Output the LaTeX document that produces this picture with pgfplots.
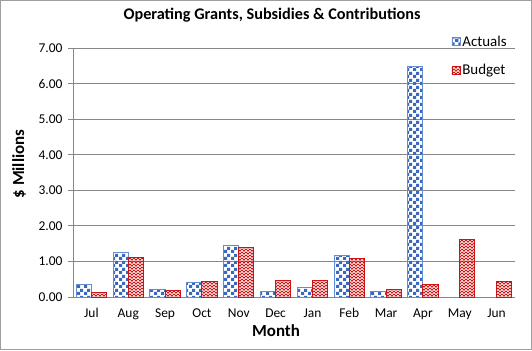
\documentclass[border=0pt]{standalone}
\usepackage{pgfplots}
\pgfplotsset{compat=1.18}
\usepackage{fontspec}
\setmainfont{Carlito}
\usetikzlibrary{patterns.meta}
\definecolor{actblue}{RGB}{58,104,190}
\definecolor{actedge}{RGB}{100,140,210}
\definecolor{budred}{RGB}{204,20,20}
\definecolor{gridgray}{RGB}{134,134,134}
\pgfdeclarepattern{
  name=mychecker,
  type=uncolored,
  bottom left={\pgfpoint{0bp}{0bp}},
  top right={\pgfpoint{7bp}{7bp}},
  tile size={\pgfpoint{7bp}{7bp}},
  code={
    \pgfpathrectangle{\pgfpoint{0bp}{0bp}}{\pgfpoint{3.5bp}{3.5bp}}
    \pgfpathrectangle{\pgfpoint{3.5bp}{3.5bp}}{\pgfpoint{3.5bp}{3.5bp}}
    \pgfusepath{fill}
  }
}
\pgfdeclarepattern{
  name=myzigzag,
  type=uncolored,
  bottom left={\pgfpoint{-1bp}{-1bp}},
  top right={\pgfpoint{5bp}{4bp}},
  tile size={\pgfpoint{4bp}{3bp}},
  code={
    \pgfsetlinewidth{1bp}
    \pgfpathmoveto{\pgfpoint{-0.5bp}{0.25bp}}
    \pgfpathlineto{\pgfpoint{0bp}{0bp}}
    \pgfpathlineto{\pgfpoint{2bp}{2bp}}
    \pgfpathlineto{\pgfpoint{4bp}{0bp}}
    \pgfpathlineto{\pgfpoint{4.5bp}{0.25bp}}
    \pgfusepath{stroke}
  }
}
\pgfplotstableread{
x act bud
0 0.36 0.12
1 1.26 1.10
2 0.22 0.19
3 0.41 0.43
4 1.46 1.38
5 0.16 0.46
6 0.26 0.46
7 1.17 1.08
8 0.16 0.21
9 6.47 0.36
10 0 1.63
11 0 0.43
}\mydata
\begin{document}
\begin{tikzpicture}[x=1bp,y=1bp]
\useasboundingbox (0,0) rectangle (532,350);
\draw[gridgray!80, line width=1bp] (0.5,0.5) rectangle (531.5,349.5);
\begin{axis}[
  at={(73bp,53bp)}, anchor=south west,
  scale only axis, width=442bp, height=249bp,
  xmin=-0.5, xmax=11.5, ymin=0, ymax=7,
  ybar=0pt, bar width=0.41,
  axis x line*=bottom, axis y line*=left,
  axis line style={gridgray, line width=0.8bp},
  major tick length=5bp,
  xtick={0,...,11},
  xticklabels={Jul,Aug,Sep,Oct,Nov,Dec,Jan,Feb,Mar,Apr,May,Jun},
  x tick style={draw=none},
  extra x ticks={-0.5,0.5,...,11.5},
  extra x tick labels={},
  extra x tick style={grid=none, tick style={draw=gridgray, line width=0.8bp}},
  ytick={0,1,...,7},
  y tick style={draw=gridgray, line width=0.8bp},
  tick align=outside,
  ymajorgrids, major grid style={gridgray, line width=0.8bp},
  yticklabel style={/pgf/number format/.cd, fixed, fixed zerofill, precision=2, /tikz/.cd},
  /pgf/number format/assume math mode=true,
  tick label style={font=\fontsize{13.5}{14}\selectfont},
  xticklabel style={yshift=-3bp},
  yticklabel style={xshift=-2bp},
  legend style={at={(axis description cs:0.856,1.058)}, anchor=north west, draw=none, fill=none,
    inner sep=0pt, font=\fontsize{15}{16}\selectfont, row sep=13bp,
    /tikz/every even column/.append style={column sep=3bp}},
  legend cell align=left,
  legend image code/.code={\draw[#1, line width=0.8bp] (0bp,-4bp) rectangle (8bp,4bp);},
]
\addplot[draw=actedge, line width=1bp, pattern=mychecker, pattern color=actblue] table[x=x,y=act]{\mydata};
\addplot[draw=budred, line width=1bp, pattern=myzigzag, pattern color=budred] table[x=x,y=bud]{\mydata};
\legend{Actuals,Budget}
\end{axis}
\node[font=\bfseries\fontsize{16.3}{18}\selectfont] at (272,335) {Operating Grants, Subsidies \& Contributions};
\node[font=\bfseries\fontsize{17}{20}\selectfont] at (276,19) {Month};
\node[font=\bfseries\fontsize{17}{20}\selectfont, rotate=90] at (19,186) {\$ Millions};
\end{tikzpicture}
\end{document}
